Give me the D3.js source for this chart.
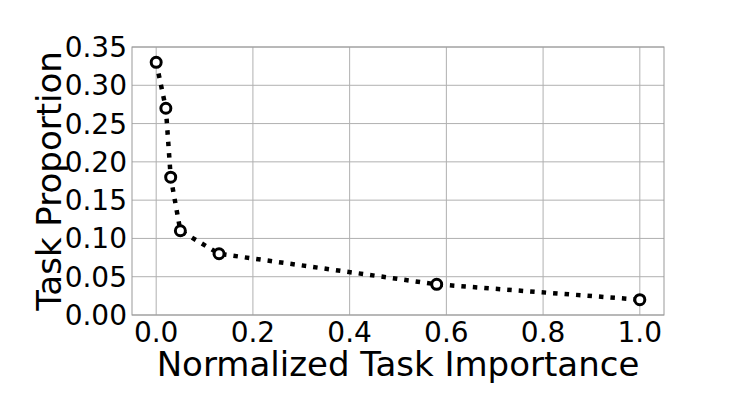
<!DOCTYPE html>
<html lang="en">
<head>
<meta charset="utf-8">
<title>Task proportion vs importance</title>
<script src="https://cdn.jsdelivr.net/npm/d3@7"></script>
<style>
  body { margin: 0; background: #fff; }
  text { font-family: "DejaVu Sans", sans-serif; fill: #000; }
</style>
</head>
<body>
<svg id="chart"></svg>
<script>
// data
const importance = [0.0, 0.02, 0.03, 0.05, 0.13, 0.58, 1.0];
const proportion = [0.33, 0.27, 0.18, 0.11, 0.08, 0.04, 0.02];
const xTicks = [0.0, 0.2, 0.4, 0.6, 0.8, 1.0];
const yTicks = [0.00, 0.05, 0.10, 0.15, 0.20, 0.25, 0.30, 0.35];

const width = 739, height = 395;
const m = { left: 132, right: 75, top: 47, bottom: 80 };

const svg = d3.select('#chart')
  .attr('width', width)
  .attr('height', height);

const x = d3.scaleLinear().domain([-0.05, 1.05]).range([m.left, width - m.right]);
const y = d3.scaleLinear().domain([0, 0.35]).range([height - m.bottom, m.top]);

// grid
svg.append('g')
  .selectAll('line')
  .data(xTicks)
  .join('line')
  .attr('x1', d => x(d)).attr('x2', d => x(d))
  .attr('y1', y(0)).attr('y2', y(0.35))
  .attr('stroke', '#b0b0b0').attr('stroke-width', 1);

svg.append('g')
  .selectAll('line')
  .data(yTicks)
  .join('line')
  .attr('x1', x(-0.05)).attr('x2', x(1.05))
  .attr('y1', d => y(d)).attr('y2', d => y(d))
  .attr('stroke', '#b0b0b0').attr('stroke-width', 1);

// frame
svg.append('rect')
  .attr('x', x(-0.05)).attr('y', y(0.35))
  .attr('width', x(1.05) - x(-0.05))
  .attr('height', y(0) - y(0.35))
  .attr('fill', 'none')
  .attr('stroke', '#999').attr('stroke-width', 1);

// tick labels
svg.append('g')
  .selectAll('text')
  .data(xTicks)
  .join('text')
  .attr('x', d => x(d))
  .attr('y', y(0) + 27)
  .attr('text-anchor', 'middle')
  .style('font-size', '28px')
  .text(d => d.toFixed(1));

svg.append('g')
  .selectAll('text')
  .data(yTicks)
  .join('text')
  .attr('x', x(-0.05) - 5)
  .attr('y', d => y(d) + 10)
  .attr('text-anchor', 'end')
  .style('font-size', '28px')
  .text(d => d.toFixed(2));

// axis titles
svg.append('text')
  .attr('x', x(0.5))
  .attr('y', 376)
  .attr('text-anchor', 'middle')
  .style('font-size', '34px')
  .text('Normalized Task Importance');

svg.append('text')
  .attr('transform', 'translate(61,' + ((y(0) + y(0.35)) / 2) + ') rotate(-90)')
  .attr('text-anchor', 'middle')
  .style('font-size', '34px')
  .text('Task Proportion');

// dotted line + markers
const pts = importance.map((d, i) => [d, proportion[i]]);

svg.append('path')
  .datum(pts)
  .attr('d', d3.line().x(d => x(d[0])).y(d => y(d[1])))
  .attr('fill', 'none')
  .attr('stroke', '#000')
  .attr('stroke-width', 4.5)
  .attr('stroke-dasharray', '4.5,7');

svg.append('g')
  .selectAll('circle')
  .data(pts)
  .join('circle')
  .attr('cx', d => x(d[0]))
  .attr('cy', d => y(d[1]))
  .attr('r', 5)
  .attr('fill', '#fff')
  .attr('stroke', '#000')
  .attr('stroke-width', 3);
</script>
</body>
</html>
